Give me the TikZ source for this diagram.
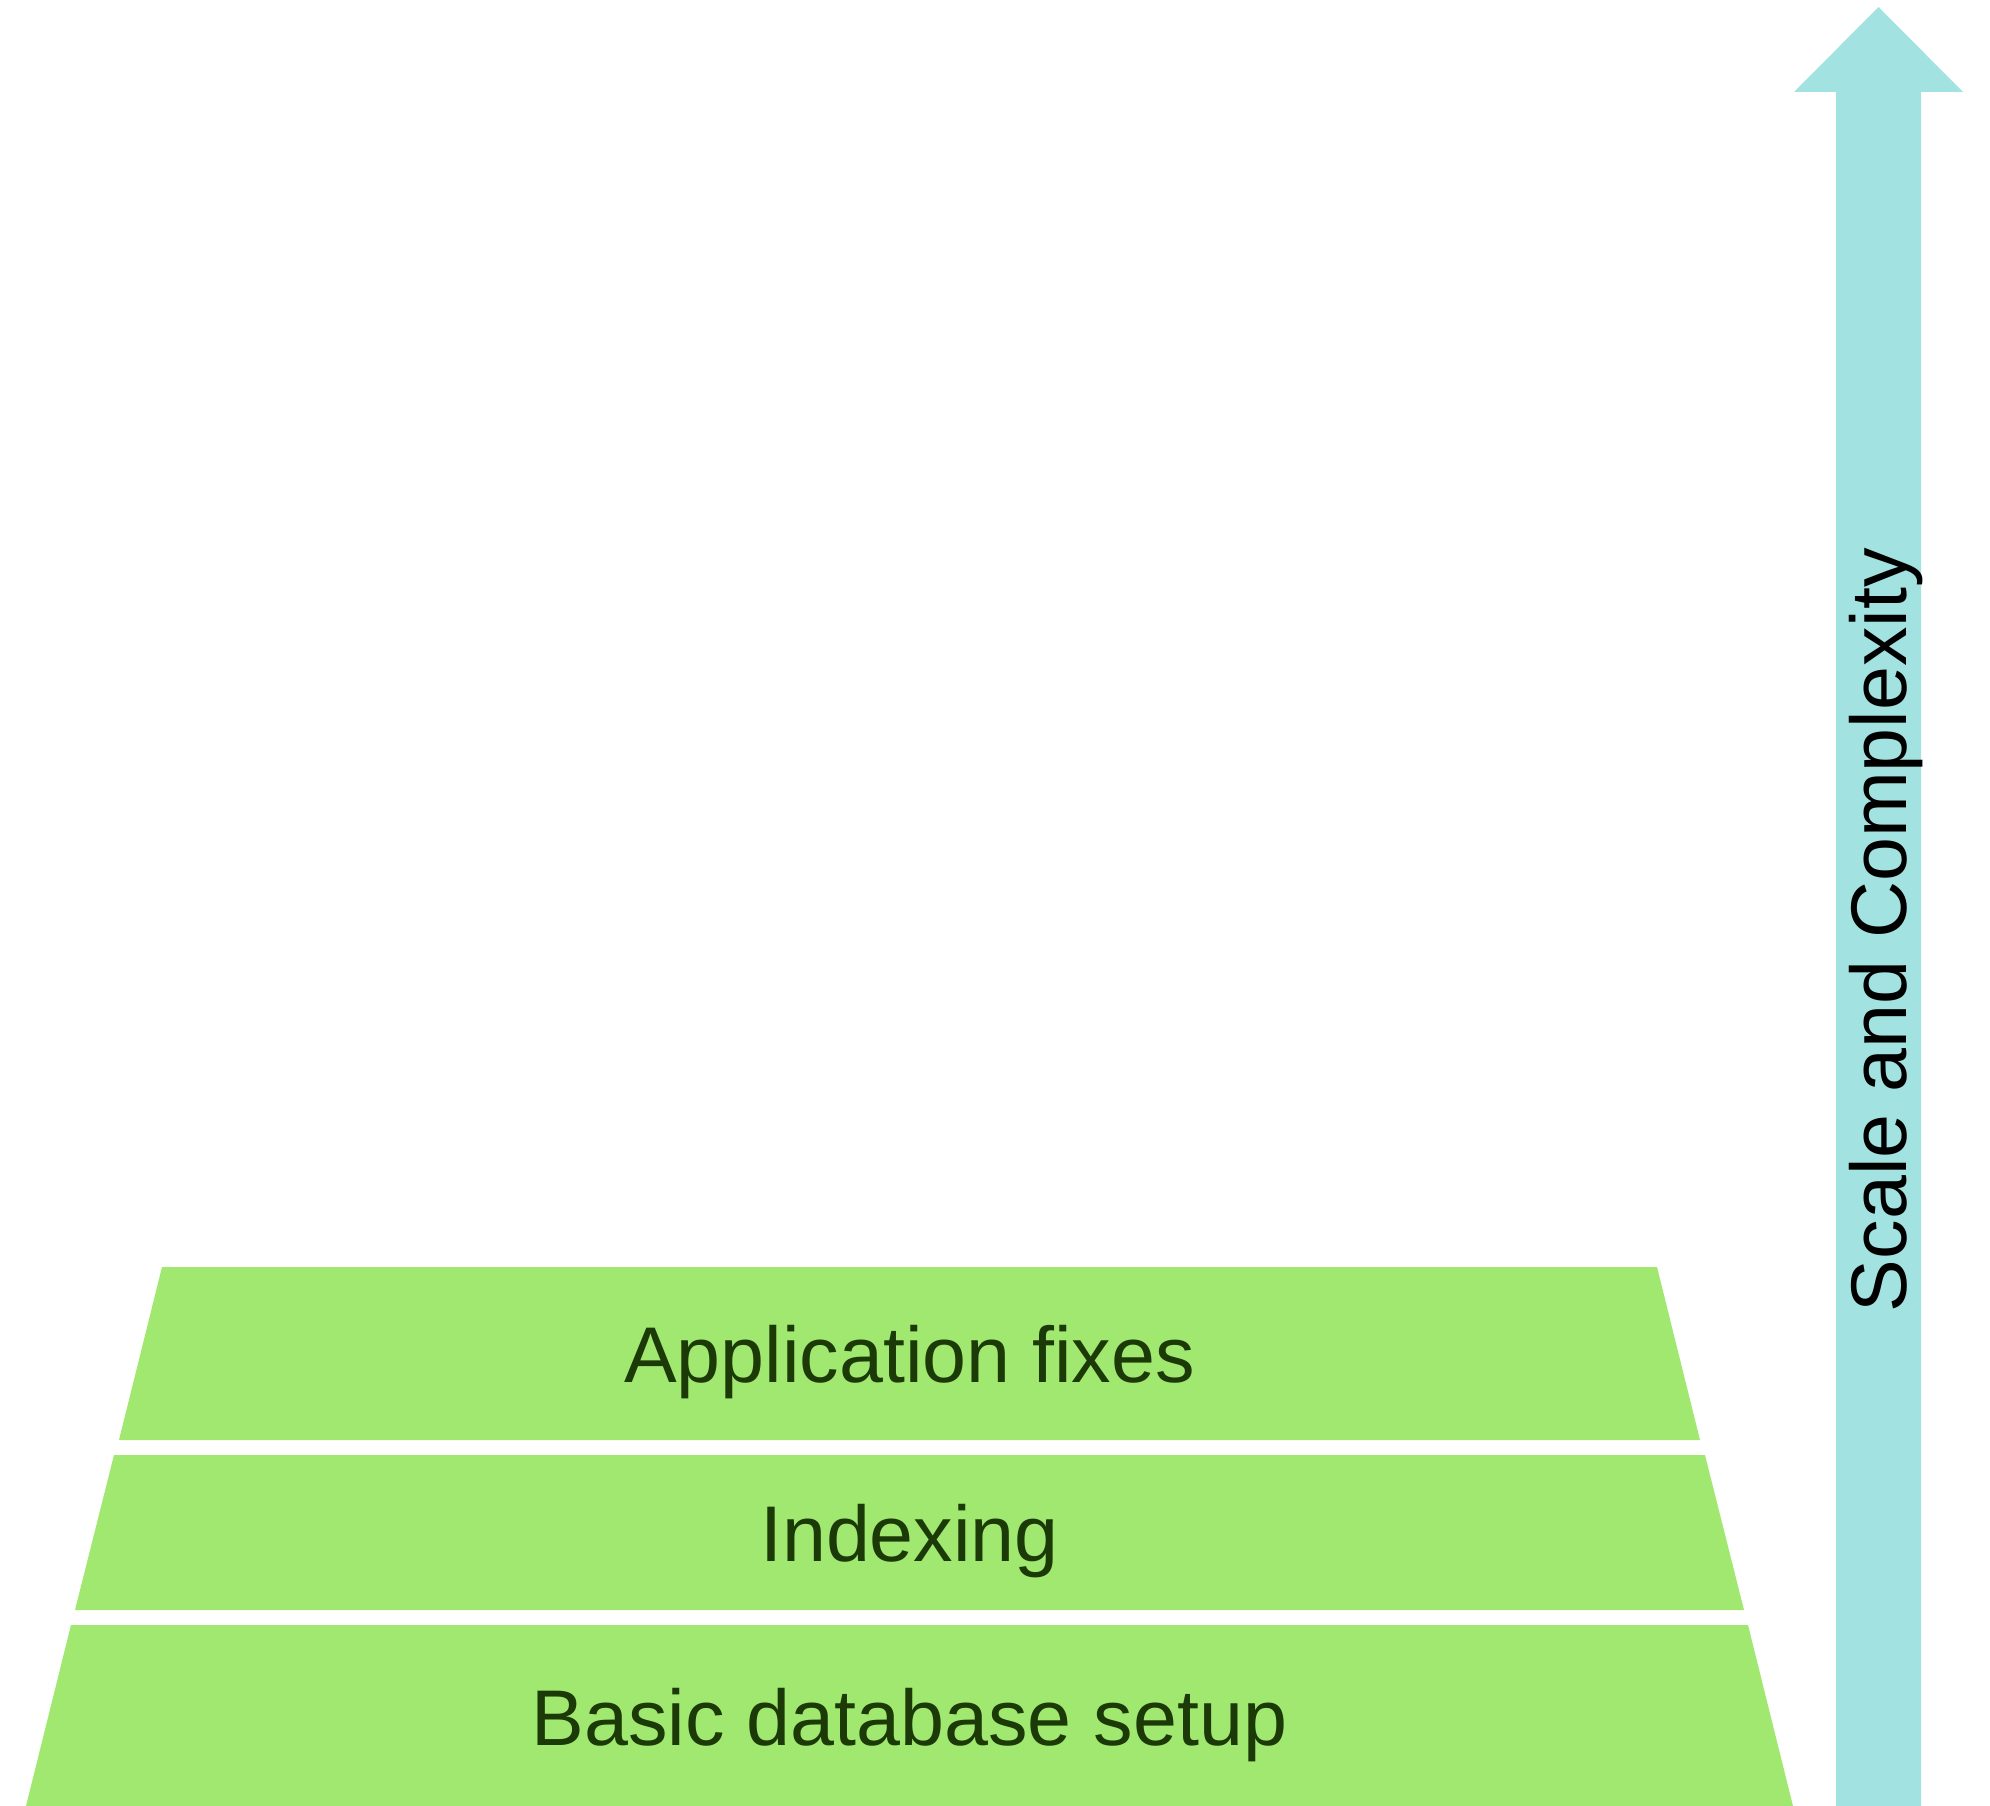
\documentclass[tikz,border=0pt]{standalone}
\usepackage{fontspec}
\setmainfont{Liberation Sans}
\definecolor{layergreen}{HTML}{A0E870}
\definecolor{arrowcyan}{HTML}{A2E2E0}
\definecolor{labelgreen}{HTML}{1C3A08}
\begin{document}
\begin{tikzpicture}[x=1pt,y=-1pt,
  layer/.style={fill=layergreen,draw=none},
  lbl/.style={anchor=base,inner sep=0pt,text=labelgreen,font=\fontsize{79}{92}\selectfont},
  axislbl/.style={anchor=base,inner sep=0pt,rotate=90,text=black,font=\fontsize{79}{92}\selectfont}]
\useasboundingbox (0,0) rectangle (1990,1806);
% layers
\path[layer] (162,1267) -- (1657,1267) -- (1700,1440) -- (119,1440) -- cycle;
\path[layer] (114,1455) -- (1705,1455) -- (1744,1610) -- (75,1610) -- cycle;
\path[layer] (71,1625) -- (1748,1625) -- (1793,1806) -- (26,1806) -- cycle;
\node[lbl] (app) at (909.5,1382) {Application fixes};
\node[lbl] (idx) at (909.5,1561) {Indexing};
\node[lbl] (basic) at (909.5,1745) {Basic database setup};
% arrow
\path[fill=arrowcyan] (1836,1806) -- (1836,92) -- (1794,92) -- (1878.5,7) -- (1963,92) -- (1921,92) -- (1921,1806) -- cycle;
\node[axislbl] (scale) at (1906,930) {Scale and Complexity};
\end{tikzpicture}
\end{document}
